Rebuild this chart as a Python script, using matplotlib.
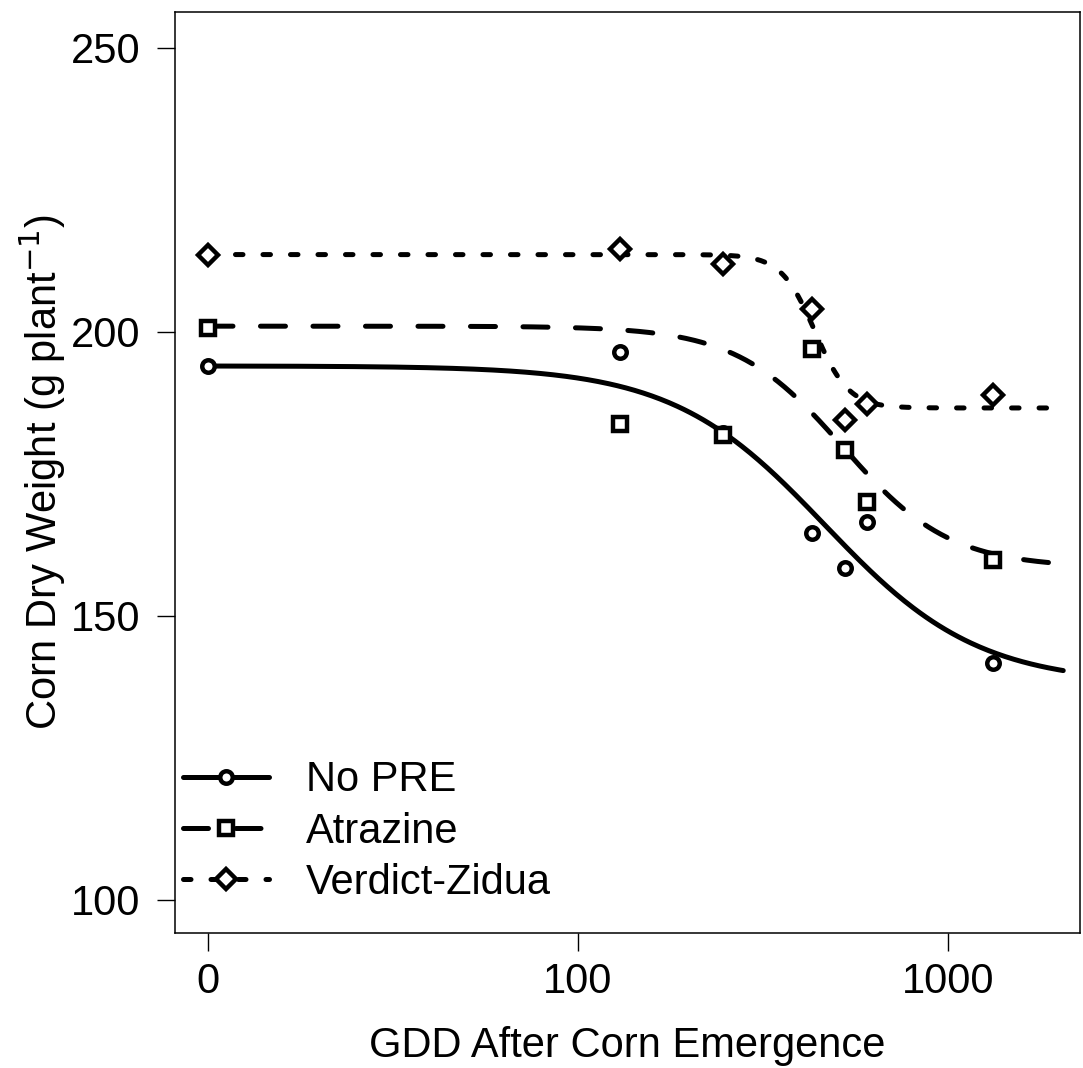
import numpy as np
import matplotlib
matplotlib.use("Agg")
import matplotlib.pyplot as plt
from matplotlib.lines import Line2D

plt.rcParams['font.family'] = ['Liberation Sans', 'DejaVu Sans']

# observed means (GDD 0 is drawn at 10 on the log axis, as drc does)
gdd = [0, 130, 246, 429, 527, 604, 1323]
no_pre = [194.0, 196.5, 182.2, 164.6, 158.5, 166.5, 141.7]
atrazine = [200.7, 183.8, 181.9, 197.0, 179.2, 170.1, 159.9]
verdict = [213.6, 214.6, 211.9, 204.0, 184.4, 187.3, 188.9]

# log-logistic (LL.4) fits: b, c, d, e
fit_no_pre = [2.1, 138.0, 194.0, 465.0]
fit_atrazine = [3.0, 158.5, 201.0, 520.0]
fit_verdict = [9.5, 186.6, 213.6, 437.0]

series = ["No PRE", "Atrazine", "Verdict-Zidua"]


def ll4(x, b, c, d, e):
    return c + (d - c) / (1 + (x / e) ** b)


fig = plt.figure(figsize=(10.83, 10.68), dpi=100)
ax = fig.add_axes([0.1616, 0.1264, 0.9972 - 0.1616, 0.9888 - 0.1264])

xplot = [10 if g == 0 else g for g in gdd]
xc = np.logspace(1, np.log10(2050), 400)

lw = 3.6
styles = [
    dict(marker='o', ms=9, ls='-', dashes=None),
    dict(marker='s', ms=10, ls='--', dashes=(5.0, 5.5)),
    dict(marker='D', ms=10, ls=':', dashes=(1.5, 4.0)),
]
handles = []
for vals, fit, st in zip([no_pre, atrazine, verdict],
                         [fit_no_pre, fit_atrazine, fit_verdict], styles):
    line, = ax.plot(xc, ll4(xc, *fit), color='black', lw=lw,
                    solid_capstyle='round', dash_capstyle='round')
    if st['dashes'] is not None:
        line.set_dashes(st['dashes'])
    ax.plot(xplot, vals, ls='none', marker=st['marker'], ms=st['ms'],
            mfc='white', mec='black', mew=3.2)
    h = Line2D([], [], color='black', lw=lw, marker=st['marker'], ms=st['ms'],
               mfc='white', mec='black', mew=3.2,
               solid_capstyle='round', dash_capstyle='round')
    if st['dashes'] is not None:
        h.set_dashes(st['dashes'])
    handles.append(h)

ax.set_xscale('log')
ax.set_xlim(8.145, 2275)
ax.set_ylim(94.19, 256.3)
ax.set_xticks([10, 100, 1000])
ax.set_xticklabels(["0", "100", "1000"])
ax.xaxis.set_minor_locator(matplotlib.ticker.NullLocator())
ax.set_yticks([100, 150, 200, 250])

for s in ax.spines.values():
    s.set_linewidth(1.1)
ax.tick_params(axis='both', length=13, width=1.0, labelsize=30)
ax.tick_params(axis='y', pad=12)
ax.tick_params(axis='x', pad=8)

ax.set_xlabel("GDD After Corn Emergence", fontsize=30, labelpad=17)
ax.set_ylabel("Corn Dry Weight (g plant$^{-1}$)", fontsize=30, labelpad=2)

ax.legend(handles, series, loc='upper left', bbox_to_anchor=(0.0, 0.1965),
          frameon=False, fontsize=30, handlelength=2.05, handletextpad=0.9,
          labelspacing=0.27, borderaxespad=0.0, borderpad=0.2)

fig.savefig("out.png", dpi=100)
